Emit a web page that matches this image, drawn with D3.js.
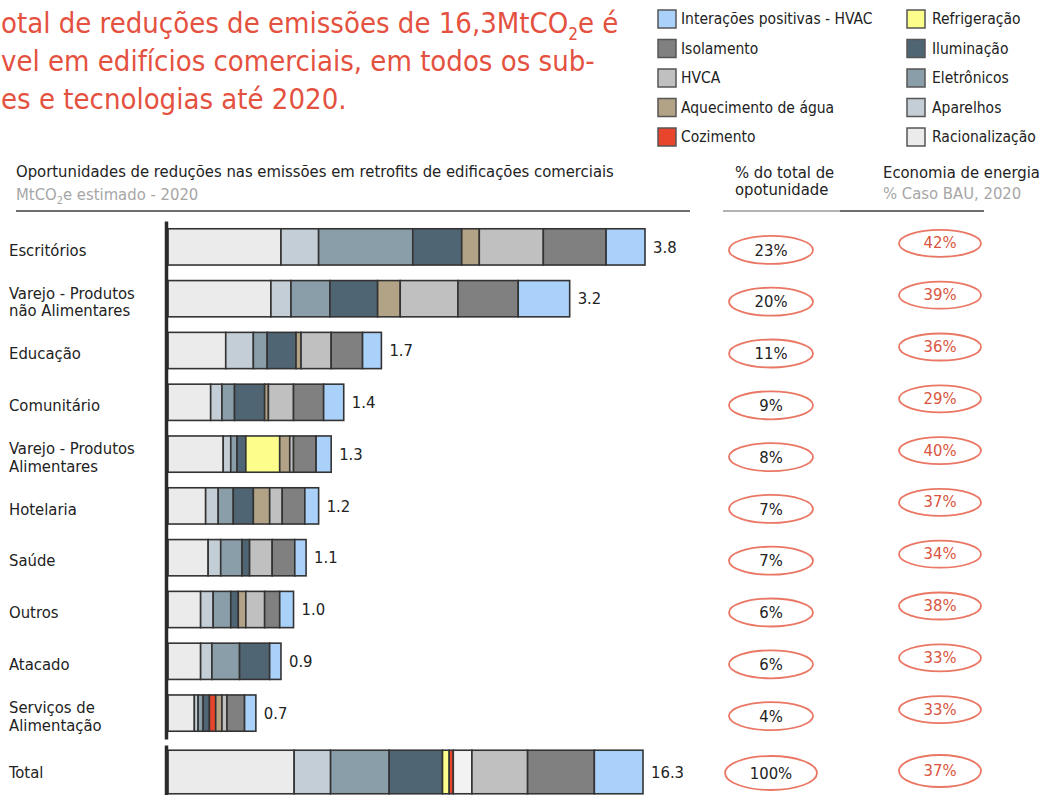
<!DOCTYPE html>
<html>
<head>
<meta charset="utf-8">
<script src="https://cdn.jsdelivr.net/npm/d3@7"></script>
<style>
  html, body { margin: 0; padding: 0; background: #fff; }
  svg { display: block; font-family: "DejaVu Sans Condensed", "DejaVu Sans", sans-serif; }
</style>
</head>
<body>
<svg id="chart" width="1047" height="795"></svg>
<script>
// ---------- DATA ----------
const categories = ["Escritórios", "Varejo - Produtos|não Alimentares", "Educação", "Comunitário",
  "Varejo - Produtos|Alimentares", "Hotelaria", "Saúde", "Outros", "Atacado", "Serviços de|Alimentação"];
const totalCategory = "Total";

const seriesNames = ["Racionalização", "Aparelhos", "Eletrônicos", "Iluminação", "Refrigeração",
  "Cozimento", "Aquecimento de água", "HVCA", "Isolamento", "Interações positivas - HVAC"];

// values per series, one entry per category (MtCO2e, 2020)
const racionalizacao = [0.90, 0.82, 0.46, 0.34, 0.44, 0.30, 0.32, 0.26, 0.26, 0.21];
const aparelhos      = [0.30, 0.16, 0.22, 0.09, 0.06, 0.10, 0.10, 0.10, 0.09, 0.03];
const eletronicos    = [0.75, 0.31, 0.11, 0.10, 0.05, 0.12, 0.17, 0.14, 0.22, 0.04];
const iluminacao     = [0.39, 0.38, 0.23, 0.24, 0.07, 0.16, 0.06, 0.06, 0.24, 0.05];
const refrigeracao   = [0.00, 0.00, 0.00, 0.00, 0.27, 0.00, 0.00, 0.00, 0.00, 0.00];
const cozimento      = [0.00, 0.00, 0.00, 0.00, 0.00, 0.00, 0.00, 0.00, 0.00, 0.05];
const aquecimento    = [0.14, 0.18, 0.04, 0.03, 0.08, 0.13, 0.00, 0.06, 0.00, 0.05];
const hvca           = [0.51, 0.46, 0.24, 0.20, 0.03, 0.10, 0.18, 0.15, 0.00, 0.04];
const isolamento     = [0.50, 0.48, 0.25, 0.24, 0.18, 0.18, 0.18, 0.12, 0.00, 0.14];
const interacoesHVAC = [0.31, 0.41, 0.15, 0.16, 0.12, 0.11, 0.09, 0.11, 0.09, 0.09];

// Total row (same series order)
const totalValues = [4.33, 1.25, 2.01, 1.83, 0.23, 0.14, 0.64, 1.91, 2.29, 1.67];

const barLabels = ["3.8", "3.2", "1.7", "1.4", "1.3", "1.2", "1.1", "1.0", "0.9", "0.7"];
const totalLabel = "16.3";

const shareOfTotal = ["23%", "20%", "11%", "9%", "8%", "7%", "7%", "6%", "6%", "4%"];
const shareTotal = "100%";
const energySavings = ["42%", "39%", "36%", "29%", "40%", "37%", "34%", "38%", "33%", "33%"];
const savingsTotal = "37%";

const legendLeft  = ["Interações positivas - HVAC", "Isolamento", "HVCA", "Aquecimento de água", "Cozimento"];
const legendRight = ["Refrigeração", "Iluminação", "Eletrônicos", "Aparelhos", "Racionalização"];

// ---------- STYLE ----------
const colors = {
  "Racionalização": "#ebebeb",
  "Aparelhos": "#c4ced6",
  "Eletrônicos": "#8a9eaa",
  "Iluminação": "#506573",
  "Refrigeração": "#fdfd8c",
  "Cozimento": "#e8452c",
  "Aquecimento de água": "#b3a386",
  "HVCA": "#c0c0c0",
  "Isolamento": "#808080",
  "Interações positivas - HVAC": "#a9d1f9"
};
const color = d3.scaleOrdinal().domain(seriesNames).range(seriesNames.map(s => colors[s]));
const RED = "#e4513f";
const ELLIPSE = "#ea7764";
const FS = 16.5;

const svg = d3.select("#chart");

// ---------- BUILD TABLE ----------
const seriesArrays = [racionalizacao, aparelhos, eletronicos, iluminacao, refrigeracao, cozimento,
  aquecimento, hvca, isolamento, interacoesHVAC];
const rows = categories.map((c, i) => {
  const r = { category: c };
  seriesNames.forEach((s, j) => r[s] = seriesArrays[j][i]);
  return r;
});
const totalRow = { category: totalCategory };
seriesNames.forEach((s, j) => totalRow[s] = totalValues[j]);

const stack = d3.stack().keys(seriesNames);
const stacked = stack(rows);
const stackedTotal = stack([totalRow]);

// ---------- SCALES ----------
const x = d3.scaleLinear().domain([0, 3.8]).range([168, 645]);
const xTotal = d3.scaleLinear().domain([0, 16.3]).range([168, 643]);
const y = d3.scaleBand().domain(categories).range([221, 739]).paddingInner(0.3).paddingOuter(0.15);
const yTotal = d3.scaleBand().domain([totalCategory]).range([745, 799]).paddingInner(0).paddingOuter(0.12);

// ---------- TITLE ----------
const title = svg.append("g").attr("fill", RED).attr("font-size", 29);
const t1 = title.append("text").attr("x", 1).attr("y", 33);
t1.append("tspan").text("otal de reduções de emissões de 16,3MtCO");
t1.append("tspan").attr("font-size", 17).attr("dy", 7).text("2");
t1.append("tspan").attr("dy", -7).text("e é");
title.append("text").attr("x", 1).attr("y", 71).text("vel em edifícios comerciais, em todos os sub-");
title.append("text").attr("x", 1).attr("y", 109).text("es e tecnologias até 2020.");

// ---------- LEGEND ----------
function legendCol(items, xSq, xTxt) {
  const g = svg.append("g");
  const ly = d3.scalePoint().domain(items).range([19, 137]);
  const it = g.selectAll("g").data(items).join("g")
    .attr("transform", d => `translate(0,${ly(d)})`);
  it.append("rect").attr("x", xSq).attr("y", -9).attr("width", 18).attr("height", 18)
    .attr("fill", d => color(d)).attr("stroke", "#555").attr("stroke-width", 1.5);
  it.append("text").attr("x", xTxt).attr("y", 0).attr("dy", "0.35em")
    .attr("font-size", 15.5).attr("fill", "#222").text(d => d);
}
legendCol(legendLeft, 658, 681);
legendCol(legendRight, 907, 932);

// ---------- HEADERS ----------
svg.append("text").attr("x", 16).attr("y", 177).attr("font-size", FS).attr("fill", "#222")
  .text("Oportunidades de reduções nas emissões em retrofits de edificações comerciais");
const sub = svg.append("text").attr("x", 16).attr("y", 200).attr("font-size", FS).attr("fill", "#a6a6a6");
sub.append("tspan").text("MtCO");
sub.append("tspan").attr("font-size", 11).attr("dy", 4).text("2");
sub.append("tspan").attr("dy", -4).text("e estimado - 2020");
svg.append("line").attr("x1", 16).attr("x2", 690).attr("y1", 211).attr("y2", 211)
  .attr("stroke", "#6e6e6e").attr("stroke-width", 2);

const h1 = svg.append("text").attr("font-size", FS).attr("fill", "#222");
h1.append("tspan").attr("x", 735).attr("y", 178).text("% do total de");
h1.append("tspan").attr("x", 735).attr("y", 195).text("opotunidade");
svg.append("text").attr("x", 883).attr("y", 178).attr("font-size", FS).attr("fill", "#222")
  .text("Economia de energia");
svg.append("text").attr("x", 883).attr("y", 199).attr("font-size", FS).attr("fill", "#a6a6a6")
  .text("% Caso BAU, 2020");
svg.append("line").attr("x1", 723).attr("x2", 840).attr("y1", 211).attr("y2", 211)
  .attr("stroke", "#9a9a9a").attr("stroke-width", 1.5);
svg.append("line").attr("x1", 840).attr("x2", 984).attr("y1", 211).attr("y2", 211)
  .attr("stroke", "#6e6e6e").attr("stroke-width", 2);

// ---------- BARS ----------
const bars = svg.append("g");
bars.selectAll("g").data(stacked).join("g")
  .attr("fill", d => color(d.key))
  .selectAll("rect").data(d => d.filter(p => p[1] - p[0] > 0)).join("rect")
  .attr("x", d => x(d[0]))
  .attr("width", d => x(d[1]) - x(d[0]))
  .attr("y", d => y(d.data.category))
  .attr("height", y.bandwidth())
  .attr("stroke", "#333").attr("stroke-width", 1.6);

const tbars = svg.append("g");
tbars.selectAll("g").data(stackedTotal).join("g")
  .attr("fill", d => d.key === "Aquecimento de água" ? "#f2f2f2" : color(d.key))
  .selectAll("rect").data(d => d.filter(p => p[1] - p[0] > 0)).join("rect")
  .attr("x", d => xTotal(d[0]))
  .attr("width", d => xTotal(d[1]) - xTotal(d[0]))
  .attr("y", d => yTotal(d.data.category))
  .attr("height", yTotal.bandwidth())
  .attr("stroke", "#333").attr("stroke-width", 1.6);

// axes (vertical lines)
const axisG = svg.append("g").attr("transform", "translate(166,0)")
  .call(d3.axisLeft(y).tickSize(0).tickFormat("").tickSizeOuter(0));
axisG.select(".domain").attr("stroke", "#2a2a2a").attr("stroke-width", 3.5);
const axisT = svg.append("g").attr("transform", "translate(166,0)")
  .call(d3.axisLeft(yTotal).tickSize(0).tickFormat("").tickSizeOuter(0));
axisT.select(".domain").attr("stroke", "#2a2a2a").attr("stroke-width", 3.5);

// value labels
const sums = rows.map(r => d3.sum(seriesNames, s => r[s]));
svg.append("g").selectAll("text").data(categories).join("text")
  .attr("x", (d, i) => x(sums[i]) + 8)
  .attr("y", d => y(d) + y.bandwidth() / 2)
  .attr("dy", "0.35em").attr("font-size", 16.5).attr("fill", "#222")
  .text((d, i) => barLabels[i]);
svg.append("text")
  .attr("x", xTotal(d3.sum(totalValues)) + 8)
  .attr("y", yTotal(totalCategory) + yTotal.bandwidth() / 2)
  .attr("dy", "0.35em").attr("font-size", 16.5).attr("fill", "#222").text(totalLabel);

// category labels
const catG = svg.append("g").attr("font-size", FS).attr("fill", "#222");
categories.forEach(c => {
  const lines = c.split("|");
  const cy = y(c) + y.bandwidth() / 2 + 3;
  const t = catG.append("text").attr("x", 9);
  lines.forEach((ln, k) => {
    t.append("tspan").attr("x", 9)
      .attr("y", cy + (k - (lines.length - 1) / 2) * 17.5)
      .attr("dy", "0.35em").text(ln);
  });
});
catG.append("text").attr("x", 9).attr("y", yTotal(totalCategory) + yTotal.bandwidth() / 2)
  .attr("dy", "0.35em").text(totalCategory);

// ---------- RIGHT COLUMNS ----------
const allCats = categories.concat([totalCategory]);
const isTotal = c => c === totalCategory;
const rowCenter = c => isTotal(c) ? yTotal(c) + yTotal.bandwidth() / 2 : y(c) + y.bandwidth() / 2;
const shares = shareOfTotal.concat([shareTotal]);
const savings = energySavings.concat([savingsTotal]);

const col1 = svg.append("g").selectAll("g").data(allCats).join("g")
  .attr("transform", c => `translate(771,${rowCenter(c) + (isTotal(c) ? 1 : 3)})`);
col1.append("ellipse").attr("rx", c => isTotal(c) ? 46 : 42).attr("ry", c => isTotal(c) ? 17 : 14)
  .attr("fill", "none").attr("stroke", ELLIPSE).attr("stroke-width", 1.8);
col1.append("text").attr("text-anchor", "middle").attr("dy", "0.35em")
  .attr("font-size", 16.5).attr("fill", "#222").text((c, i) => shares[i]);

const col2 = svg.append("g").selectAll("g").data(allCats).join("g")
  .attr("transform", c => `translate(940,${rowCenter(c) - (isTotal(c) ? 1 : 3.5)})`);
col2.append("ellipse").attr("rx", 41).attr("ry", c => isTotal(c) ? 16 : 13.5)
  .attr("fill", "none").attr("stroke", ELLIPSE).attr("stroke-width", 1.8);
col2.append("text").attr("text-anchor", "middle").attr("dy", "0.3em")
  .attr("font-size", 16.5).attr("fill", "#d95540").text((c, i) => savings[i]);
</script>
</body>
</html>
